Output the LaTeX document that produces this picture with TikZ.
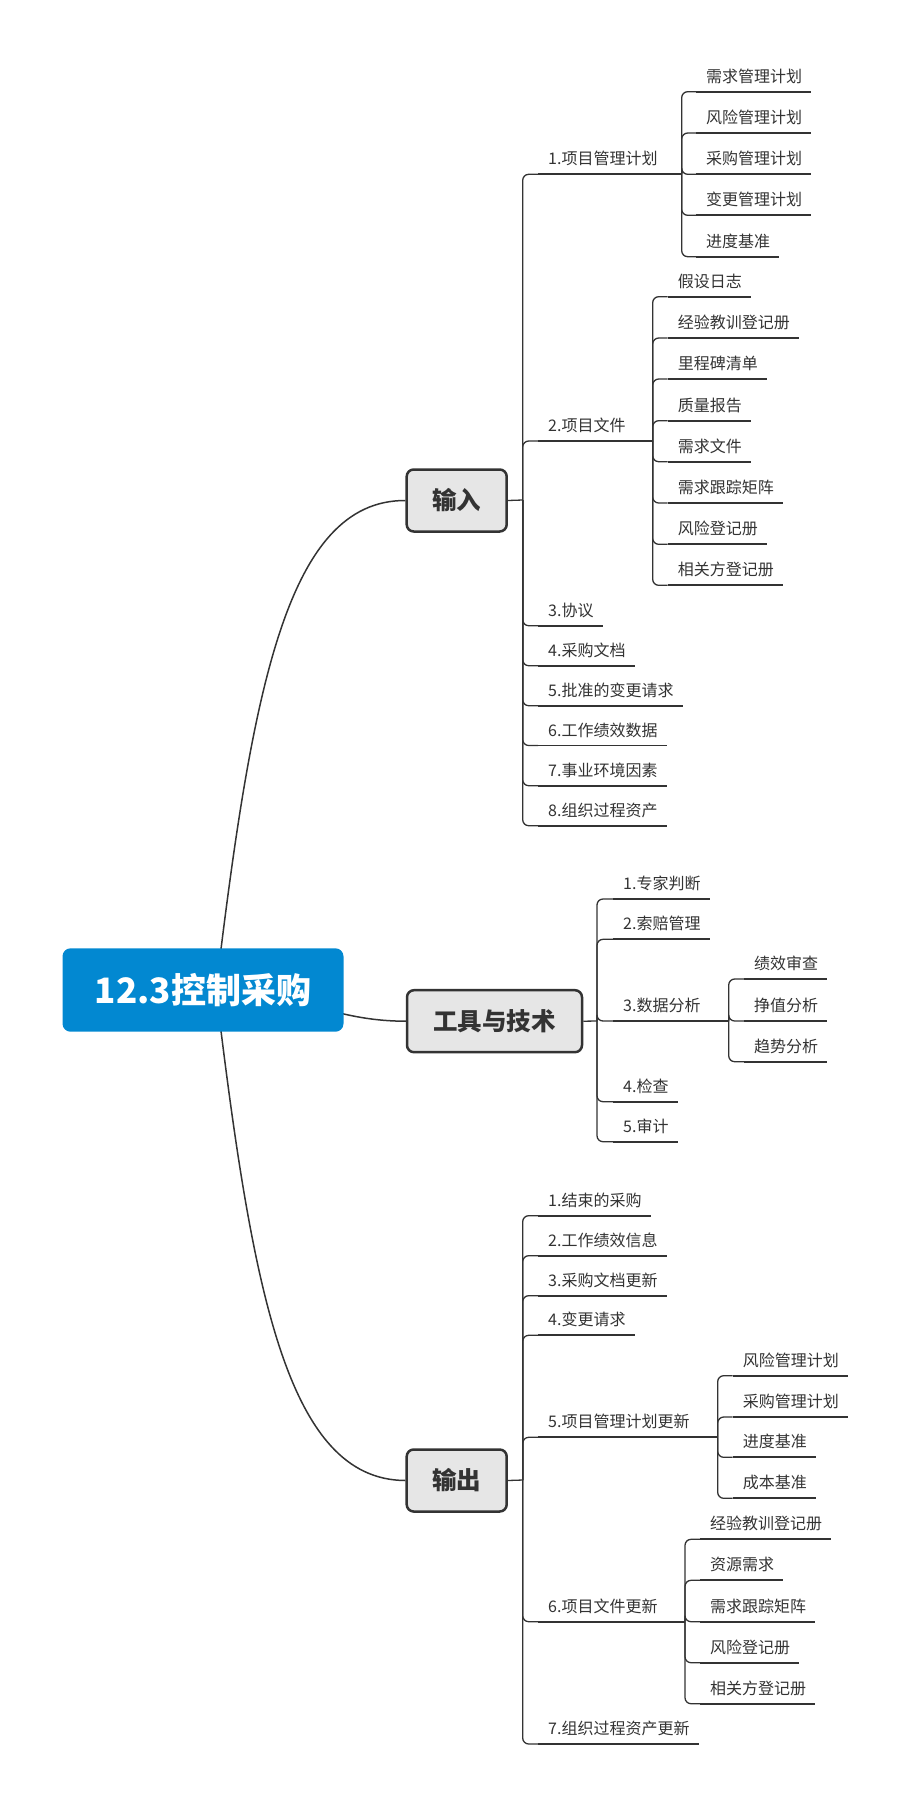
\documentclass[tikz,border=0pt]{standalone}
\usepackage{fontspec}
\setmainfont{Noto Sans CJK SC}
\definecolor{ink}{HTML}{333333}
\definecolor{rootblue}{HTML}{0288D1}
\definecolor{boxgray}{HTML}{E6E6E6}
\newcommand\leafitem[5]{%
  \node[leaf] (#1) at (#3,#4-9.5) {#5};
  \draw[conn] (#2) |- ([shift={(-10pt,-9.5pt)}]#1.base west);
  \draw[uline] ([shift={(-10pt,-9.5pt)}]#1.base west) -- ([shift={(9pt,-9.5pt)}]#1.base east);
}
\newcommand\branchitem[6]{%
  \node[leaf] (#1) at (#3,#4-9.5) {#5};
  \coordinate (#1S) at (#6,#4);
  \draw[conn] (#2) |- ([shift={(-10pt,-9.5pt)}]#1.base west);
  \draw[uline] ([shift={(-10pt,-9.5pt)}]#1.base west) -- (#1S);
}
\begin{document}
\begin{tikzpicture}[x=1pt,y=-1pt,
  leaf/.style={anchor=base west, inner sep=0pt, font=\fontsize{16}{18}\selectfont, text=ink},
  conn/.style={draw=ink, line width=1.3pt, rounded corners=6pt},
  uline/.style={draw=ink, line width=1.8pt},
  curve/.style={draw=ink, line width=1.5pt},
  mainbox/.style={draw=ink, line width=2.5pt, fill=boxgray, rounded corners=7pt, font=\fontsize{24.5}{26}\selectfont\bfseries, text=ink, inner sep=0pt},
  rootbox/.style={fill=rootblue, rounded corners=8pt, font=\fontsize{35}{38}\selectfont\bfseries, text=white, inner sep=0pt, minimum width=281pt, minimum height=83.4pt}
]
\useasboundingbox (0,0) rectangle (911,1807);

% main boxes
\node[mainbox, minimum width=100pt, minimum height=62pt] (in) at (456.7,500.5) {输入};
\node[mainbox, minimum width=175pt, minimum height=62pt] (tool) at (494.5,1021.2) {工具与技术};
\node[mainbox, minimum width=100pt, minimum height=62pt] (out) at (456.7,1480.5) {输出};

% root connectors
\coordinate (rc) at (216,990);
\draw[curve] (rc) .. controls (252,690) and (286.7,500) .. (in.west);
\draw[curve] (rc) .. controls (300,992) and (330,1021) .. (tool.west);
\draw[curve] (rc) .. controls (252,1290) and (286.7,1480) .. (out.west);
\node[rootbox] (root) at (203,990) {12.3控制采购};

% ===== 输入 =====
\coordinate (inS) at (522.7,500);
\draw[conn] (in.east) -- (inS);
\branchitem{b1}{inS}{548}{174.3}{1.项目管理计划}{681.7}
\leafitem{b1a}{b1S}{706}{91.7}{需求管理计划}
\leafitem{b1b}{b1S}{706}{133}{风险管理计划}
\leafitem{b1c}{b1S}{706}{174.3}{采购管理计划}
\leafitem{b1d}{b1S}{706}{215.3}{变更管理计划}
\leafitem{b1e}{b1S}{706}{256.7}{进度基准}

\branchitem{b2}{inS}{548}{441}{2.项目文件}{652.7}
\leafitem{b2a}{b2S}{677.7}{296.7}{假设日志}
\leafitem{b2b}{b2S}{677.7}{338}{经验教训登记册}
\leafitem{b2c}{b2S}{677.7}{379}{里程碑清单}
\leafitem{b2d}{b2S}{677.7}{420.7}{质量报告}
\leafitem{b2e}{b2S}{677.7}{461.7}{需求文件}
\leafitem{b2f}{b2S}{677.7}{503}{需求跟踪矩阵}
\leafitem{b2g}{b2S}{677.7}{544.3}{风险登记册}
\leafitem{b2h}{b2S}{677.7}{585.3}{相关方登记册}

\leafitem{b3}{inS}{548}{625.7}{3.协议}
\leafitem{b4}{inS}{548}{665.7}{4.采购文档}
\leafitem{b5}{inS}{548}{705.7}{5.批准的变更请求}
\leafitem{b6}{inS}{548}{745.5}{6.工作绩效数据}
\leafitem{b7}{inS}{548}{785.7}{7.事业环境因素}
\leafitem{b8}{inS}{548}{825.7}{8.组织过程资产}

% ===== 工具与技术 =====
\coordinate (tS) at (597,1021);
\draw[conn] (tool.east) -- (tS);
\leafitem{t1}{tS}{623}{899}{1.专家判断}
\leafitem{t2}{tS}{623}{939.3}{2.索赔管理}
\branchitem{t3}{tS}{623}{1021}{3.数据分析}{728.7}
\leafitem{t3a}{t3S}{754}{979}{绩效审查}
\leafitem{t3b}{t3S}{754}{1021}{挣值分析}
\leafitem{t3c}{t3S}{754}{1061.7}{趋势分析}
\leafitem{t4}{tS}{623}{1101.7}{4.检查}
\leafitem{t5}{tS}{623}{1141.7}{5.审计}

% ===== 输出 =====
\coordinate (oS) at (522.7,1480);
\draw[conn] (out.east) -- (oS);
\leafitem{c1}{oS}{548}{1215.7}{1.结束的采购}
\leafitem{c2}{oS}{548}{1255.7}{2.工作绩效信息}
\leafitem{c3}{oS}{548}{1295.7}{3.采购文档更新}
\leafitem{c4}{oS}{548}{1335.3}{4.变更请求}
\branchitem{c5}{oS}{548}{1437.3}{5.项目管理计划更新}{717.7}
\leafitem{c5a}{c5S}{742.7}{1375.7}{风险管理计划}
\leafitem{c5b}{c5S}{742.7}{1417}{采购管理计划}
\leafitem{c5c}{c5S}{742.7}{1457.3}{进度基准}
\leafitem{c5d}{c5S}{742.7}{1498.3}{成本基准}
\branchitem{c6}{oS}{548}{1621.7}{6.项目文件更新}{685}
\leafitem{c6a}{c6S}{710}{1539.3}{经验教训登记册}
\leafitem{c6b}{c6S}{710}{1580.3}{资源需求}
\leafitem{c6c}{c6S}{710}{1621.7}{需求跟踪矩阵}
\leafitem{c6d}{c6S}{710}{1662.7}{风险登记册}
\leafitem{c6e}{c6S}{710}{1703.7}{相关方登记册}
\leafitem{c7}{oS}{548}{1744}{7.组织过程资产更新}
\end{tikzpicture}
\end{document}
